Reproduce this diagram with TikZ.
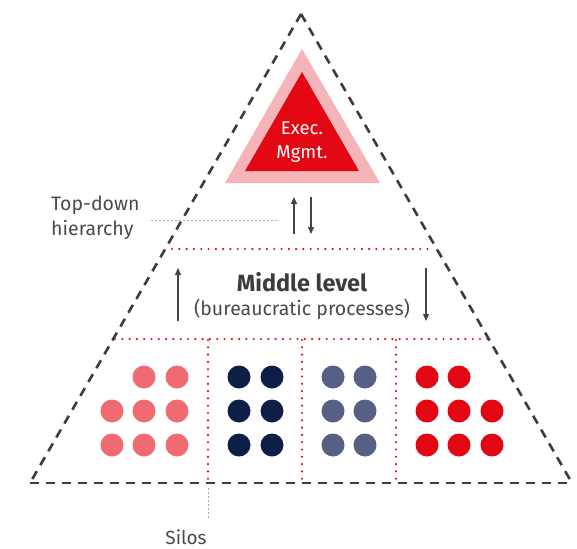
\documentclass[tikz,border=0pt]{standalone}
\usepackage{fontspec}
\setmainfont{Fira Sans}
\usetikzlibrary{arrows.meta}
\definecolor{frame}{HTML}{3C3C3C}
\definecolor{execred}{HTML}{E30613}
\definecolor{execpink}{HTML}{F5B4B8}
\definecolor{silopink}{HTML}{F06A72}
\definecolor{silonavy}{HTML}{0D1E47}
\definecolor{siloslate}{HTML}{565F85}
\definecolor{siloRed}{HTML}{E30613}
\definecolor{arrowgray}{HTML}{444444}
\definecolor{textgray}{HTML}{4A4A4A}
\definecolor{leadergray}{HTML}{AAAAAA}
\tikzset{
  outline/.style={draw=frame, line width=2.6pt, dash pattern=on 9pt off 7pt},
  levelline/.style={draw=execred, line width=2.4pt, line cap=round, dash pattern=on 0pt off 7.3pt},
  leader/.style={draw=leadergray, line width=0.9pt, dash pattern=on 2pt off 2pt},
  flow/.style={draw=arrowgray, line width=1.3pt, -{Triangle[length=7pt,width=6pt]}},
  dot/.style={circle, inner sep=0pt, minimum size=23pt},
  label/.style={text=textgray, font=\fontsize{19}{24}\selectfont, inner sep=0pt},
}
\begin{document}
\begin{tikzpicture}[x=1pt, y=-1pt]
\useasboundingbox (0,0) rectangle (577,548);

% outer pyramid
\coordinate (apex) at (301,14);
\coordinate (bl) at (30,483);
\coordinate (br) at (572,483);
\draw[outline] (bl) -- (br);
\draw[outline] (apex) -- (bl);
\draw[outline] (apex) -- (br);

% executive management
\fill[execpink] (302,49) -- (225,183) -- (380,183) -- cycle;
\fill[execred] (302,72) -- (245,171) -- (359,171) -- cycle;
\node[text=white, font=\fontsize{18.5}{24}\selectfont, align=center, inner sep=0pt] (exec) at (302,142) {Exec.\\Mgmt.};

% level separators
\coordinate (t1) at (172,249); \coordinate (t2) at (433,249);
\coordinate (m1) at (115,339); \coordinate (m2) at (488,339);
\draw[levelline] (t1) -- (t2);
\draw[levelline] (m1) -- (m2);

% silo separators
\foreach \x/\n in {208/a, 302/b, 396/c} {
  \coordinate (s\n top) at (\x,340);
  \coordinate (s\n bot) at (\x,480);
  \draw[levelline] (s\n top) -- (s\n bot);
}

% top-down hierarchy
\node[label, anchor=north west, align=left, font=\fontsize{19.5}{24.5}\selectfont] (td) at (51,196) {Top-down\\hierarchy};
\coordinate (tdl1) at (151,220); \coordinate (tdl2) at (277,220);
\draw[leader] (tdl1) -- (tdl2);
\coordinate (u1) at (294,234); \coordinate (u2) at (294,197);
\coordinate (d1) at (311,197); \coordinate (d2) at (311,234);
\draw[flow] (u1) -- (u2);
\draw[flow] (d1) -- (d2);

% middle level
\node[text=frame, font=\bfseries\fontsize{23.5}{28}\selectfont, inner sep=0pt] (mid) at (302,282) {Middle level};
\node[label, font=\fontsize{19.5}{24}\selectfont] (bur) at (302,309) {(bureaucratic processes)};
\coordinate (mu1) at (178,321); \coordinate (mu2) at (178,268);
\coordinate (md1) at (426,268); \coordinate (md2) at (426,321);
\draw[flow] (mu1) -- (mu2);
\draw[flow] (md1) -- (md2);

% silos
\foreach \x/\y in {144/377,177/377, 112/411,144/411,177/411, 112/445,144/445,177/445}
  \node[dot, fill=silopink] at (\x,\y) {};
\foreach \x/\y in {239/377,272/377, 239/411,272/411, 239/445,272/445}
  \node[dot, fill=silonavy] at (\x,\y) {};
\foreach \x/\y in {333/377,365/377, 333/411,365/411, 333/445,365/445}
  \node[dot, fill=siloslate] at (\x,\y) {};
\foreach \x/\y in {427/377,459/377, 427/411,459/411,492/411, 427/445,459/445,492/445}
  \node[dot, fill=siloRed] at (\x,\y) {};

\coordinate (sl1) at (208,488); \coordinate (sl2) at (208,518);
\draw[leader] (sl1) -- (sl2);
\node[label] (silos) at (186,537) {Silos};
\end{tikzpicture}
\end{document}
